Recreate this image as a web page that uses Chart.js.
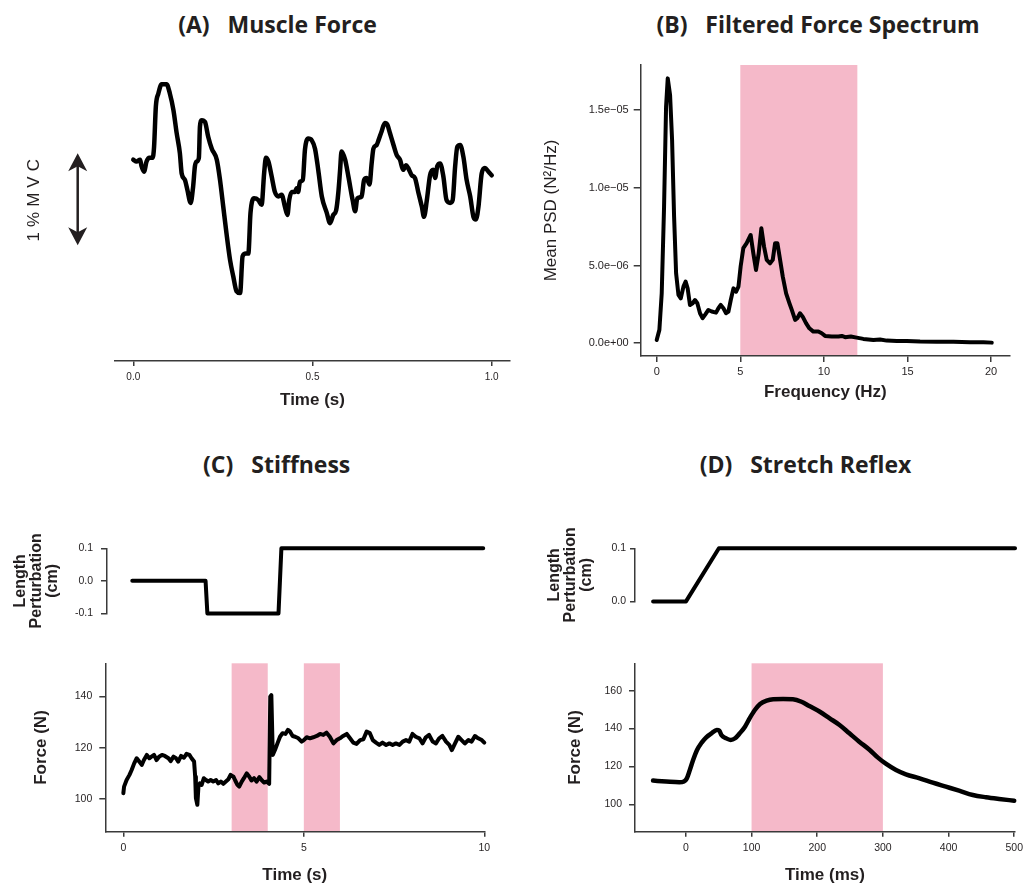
<!DOCTYPE html>
<html><head><meta charset="utf-8">
<script src="https://cdn.jsdelivr.net/npm/chart.js@4.4.1/dist/chart.umd.min.js"></script>
<style>
html,body{margin:0;padding:0;background:#fff}
body{width:1028px;height:886px;position:relative;overflow:hidden}
canvas{position:absolute}
.pt{position:absolute;font-family:"Open Sans",sans-serif;font-weight:700;font-size:23px;line-height:23px;color:#231f20;white-space:pre;transform:translateX(-50%)}
</style></head><body>
<div class="pt" style="left:277.5px;top:12.5px">(A)   Muscle Force</div>
<div class="pt" style="left:818px;top:12.5px">(B)   Filtered Force Spectrum</div>
<div class="pt" style="left:276.7px;top:453px">(C)   Stiffness</div>
<div class="pt" style="left:805.5px;top:453px">(D)   Stretch Reflex</div>
<canvas id="cA"></canvas><canvas id="cB"></canvas>
<canvas id="cCt"></canvas><canvas id="cCb"></canvas>
<canvas id="cDt"></canvas><canvas id="cDb"></canvas>
<script>
// ---------- DATA ----------
// (A) Muscle force, relative units of %MVC
const A_TIME = [0,0.009,0.019,0.023,0.030,0.037,0.045,0.054,0.058,0.063,
0.070,0.079,0.093,0.102,0.112,0.121,0.130,0.135,0.144,0.151,
0.160,0.167,0.172,0.177,0.183,0.186,0.191,0.200,0.209,0.219,
0.233,0.242,0.251,0.260,0.270,0.279,0.288,0.298,0.305,0.314,
0.321,0.327,0.337,0.349,0.358,0.365,0.370,0.377,0.386,0.395,
0.405,0.414,0.423,0.430,0.435,0.442,0.451,0.456,0.460,0.465,
0.473,0.479,0.488,0.498,0.507,0.516,0.526,0.540,0.549,0.558,
0.566,0.572,0.577,0.581,0.591,0.600,0.612,0.619,0.625,0.637,
0.644,0.651,0.659,0.665,0.670,0.679,0.684,0.693,0.702,0.709,
0.716,0.726,0.735,0.744,0.753,0.761,0.767,0.777,0.786,0.795,
0.805,0.811,0.819,0.828,0.837,0.842,0.848,0.856,0.865,0.874,
0.884,0.891,0.898,0.904,0.912,0.921,0.930,0.940,0.949,0.956,
0.963,0.972,0.981,0.991,1.000];
const A_FORCE = [0.43,0.41,0.43,0.36,0.30,0.41,0.45,0.45,0.57,1.01,
1.15,1.25,1.25,1.15,0.97,0.72,0.50,0.28,0.21,0.10,
-0.04,0.14,0.36,0.41,0.45,0.79,0.86,0.84,0.68,0.55,
0.43,0.21,-0.08,-0.37,-0.66,-0.84,-1.00,-1.02,-0.62,-0.59,
-0.59,-0.15,0.01,-0.01,-0.06,0.28,0.45,0.41,0.25,0.08,
0.03,0.05,-0.08,-0.17,-0.01,0.08,0.08,0.12,0.08,0.19,
0.21,0.54,0.66,0.64,0.55,0.32,0.03,-0.15,-0.26,-0.17,
-0.12,0.07,0.32,0.52,0.43,0.25,-0.01,-0.13,0.01,0.03,
0.21,0.23,0.16,0.39,0.55,0.59,0.64,0.74,0.83,0.81,
0.72,0.59,0.48,0.43,0.32,0.37,0.34,0.26,0.23,0.08,
-0.08,-0.19,-0.01,0.26,0.32,0.23,0.36,0.39,0.25,-0.01,
-0.04,-0.01,0.36,0.57,0.59,0.46,0.21,0.03,-0.19,-0.22,
-0.08,0.28,0.34,0.30,0.26];
const A_X_TICKS = [0, 0.5, 1];
const A_X_LABELS = ["0.0", "0.5", "1.0"];
const A_SCALEBAR = [-0.5, 0.5];   // 1 %MVC scale arrow
const A_SCALEBAR_LABEL = "1%MVC";

// (B) Filtered force spectrum (PSD in units of 1e-6 N²/Hz)
const B_FREQ = [0,0.16,0.30,0.44,0.56,0.66,0.80,0.92,1.04,1.16,
1.30,1.44,1.60,1.73,1.85,1.99,2.15,2.29,2.43,2.59,
2.75,2.89,3.09,3.29,3.55,3.69,3.83,3.99,4.15,4.29,
4.43,4.59,4.75,4.89,5.02,5.18,5.38,5.62,5.78,5.94,
6.10,6.26,6.42,6.58,6.78,6.94,7.08,7.22,7.38,7.54,
7.74,7.94,8.08,8.28,8.41,8.57,8.73,8.93,9.13,9.37,
9.67,9.87,10.07,10.47,10.87,11.07,11.27,11.61,11.96,12.36,
12.96,13.36,13.76,14.36,14.96,15.75,16.75,17.75,18.74,19.54,20.04];
const B_PSD_E6 = [0.21,0.86,3.21,8.78,15.21,17.03,15.96,13.07,8.14,4.50,
3.11,2.89,3.64,3.96,3.53,2.46,2.57,2.78,2.57,1.93,
1.61,1.82,2.14,2.04,1.97,2.25,2.46,2.25,1.93,2.04,
2.78,3.53,3.32,3.64,4.93,6.11,6.43,6.96,5.78,4.71,
5.78,7.39,6.21,5.36,5.14,5.36,6.43,6.43,5.36,4.28,
3.21,2.57,2.14,1.50,1.61,1.93,1.71,1.29,0.96,0.75,
0.75,0.64,0.47,0.43,0.43,0.47,0.39,0.43,0.36,0.28,
0.21,0.24,0.17,0.15,0.15,0.11,0.09,0.09,0.06,0.06,0.04];
const B_BAND = [[5, 12]];
const B_X_TICKS = [0, 5, 10, 15, 20];
const B_X_LABELS = ["0", "5", "10", "15", "20"];
const B_Y_TICKS = [0, 5, 10, 15];
const B_Y_LABELS = ["0.0e+00", "5.0e\u221206", "1.0e\u221205", "1.5e\u221205"];

// (C) Stiffness
const C_LEN_TIME = [0.25, 2.28, 2.33, 4.30, 4.38, 9.97];
const C_LEN = [0, 0, -0.1, -0.1, 0.1, 0.1];
const C_LEN_TICKS = [-0.1, 0, 0.1];
const C_LEN_LABELS = ["-0.1", "0.0", "0.1"];
const C_TIME = [0,0.02,0.09,0.17,0.23,0.30,0.37,0.44,0.51,0.57,
0.65,0.72,0.78,0.85,0.92,0.99,1.07,1.15,1.25,1.31,
1.39,1.46,1.52,1.60,1.68,1.75,1.83,1.89,1.96,1.99,
2.01,2.05,2.08,2.12,2.17,2.23,2.29,2.35,2.42,2.49,
2.57,2.63,2.70,2.77,2.84,2.91,2.97,3.05,3.10,3.16,
3.21,3.28,3.34,3.42,3.49,3.55,3.62,3.69,3.77,3.83,
3.90,3.97,4.04,4.07,4.10,4.14,4.20,4.27,4.34,4.41,
4.49,4.56,4.62,4.69,4.76,4.85,4.94,5.00,5.08,5.17,
5.26,5.36,5.45,5.54,5.63,5.72,5.82,5.91,6.00,6.09,
6.19,6.28,6.37,6.46,6.56,6.65,6.74,6.83,6.91,7.00,
7.09,7.18,7.28,7.37,7.46,7.55,7.65,7.74,7.83,7.92,
8.01,8.10,8.20,8.29,8.38,8.47,8.57,8.66,8.75,8.84,
8.94,9.03,9.10,9.19,9.28,9.37,9.46,9.56,9.65,9.74,
9.83,9.93,10.0];
const C_FORCE = [102.2,104.8,107.4,109.4,111.3,113.9,115.9,114.6,113.3,115.2,
117.2,115.9,116.5,117.2,115.2,116.5,117.2,116.8,115.9,114.8,
116.5,115.9,114.6,116.8,116.1,117.6,117.2,115.9,114.6,108.7,
100.3,97.7,104.8,106.1,105.5,108.1,107.4,106.8,107.4,106.8,
107.4,106.1,106.8,105.9,106.8,107.7,109.4,108.7,107.2,105.5,
104.8,106.8,108.1,110.0,108.7,107.2,108.1,106.8,108.5,107.4,
106.4,106.8,105.9,140.0,140.6,117.2,119.1,121.7,124.3,125.7,
125.4,127.0,126.3,124.6,124.3,123.7,122.4,123.0,124.1,123.7,
124.1,124.6,125.4,125.0,125.9,124.3,121.7,123.0,123.7,124.6,
125.4,123.7,122.0,121.5,123.0,123.3,126.3,125.7,123.0,122.0,
121.1,122.0,121.1,121.7,121.1,121.7,121.1,122.4,123.0,122.4,
125.4,124.3,123.7,121.7,124.1,125.0,122.4,121.7,123.7,124.6,
122.4,121.1,119.1,121.7,124.3,123.0,121.7,123.0,122.4,124.6,
123.7,123.0,122.0];
const C_BANDS = [[3, 4], [5, 6]];
const C_X_TICKS = [0, 5, 10];
const C_X_LABELS = ["0", "5", "10"];
const C_F_TICKS = [100, 120, 140];
const C_F_LABELS = ["100", "120", "140"];

// (D) Stretch reflex
const D_LEN_TIME = [-50, 0, 50, 500];
const D_LEN = [0, 0, 0.1, 0.1];
const D_LEN_TICKS = [0, 0.1];
const D_LEN_LABELS = ["0.0", "0.1"];
const D_TIME = [-50,-30,-10,-3,1,6,11,17,24,31,
39,47,51,54,61,68,75,82,90,97,
105,113,123,133,148,163,176,188,204,219,
234,249,264,280,292,305,320,335,356,376,
396,416,437,457,477,500];
const D_FORCE = [112.5,112.0,111.6,112.0,113.4,118.1,123.4,128.7,132.6,135.4,
137.5,139.3,138.9,136.6,134.9,134.0,134.9,137.5,141.0,145.4,
149.8,153.0,154.8,155.5,155.6,155.5,154.2,151.9,148.9,145.4,
141.9,137.5,133.1,128.7,124.8,121.3,118.1,115.8,113.7,111.4,
109.3,107.2,104.9,103.7,102.8,101.9];
const D_BAND = [[100, 300]];
const D_X_TICKS = [0, 100, 200, 300, 400, 500];
const D_X_LABELS = ["0", "100", "200", "300", "400", "500"];
const D_F_TICKS = [100, 120, 140, 160];
const D_F_LABELS = ["100", "120", "140", "160"];

// ---------- STYLE ----------
const AX = '#3a3a3a', TXT = '#231f20', PINK = '#f5b9c9';
const SANS = '"Liberation Sans", Arial, Helvetica, sans-serif';

const zip = (xs, ys) => xs.map((x, i) => ({x, y: ys[i]}));

const bandPlugin = {
  id: 'bands',
  beforeDraw(chart, args, o) {
    if (!o || !o.ranges) return;
    const {ctx, chartArea: a, scales: {x}} = chart;
    ctx.save(); ctx.fillStyle = o.color;
    o.ranges.forEach(([lo, hi]) => {
      const x0 = x.getPixelForValue(lo), x1 = x.getPixelForValue(hi);
      ctx.fillRect(x0, a.top, x1 - x0, a.bottom - a.top);
    });
    ctx.restore();
  }
};
const scaleBarPlugin = {
  id: 'scalebar',
  afterDraw(chart, args, o) {
    if (!o || !o.range) return;
    const {ctx, chartArea: a, scales: {y}} = chart;
    const x = a.left + o.dx;
    const yTop = y.getPixelForValue(o.range[1]), yBot = y.getPixelForValue(o.range[0]);
    const hl = 18, hw = 9.5, notch = 13;
    ctx.save();
    ctx.strokeStyle = TXT; ctx.fillStyle = TXT; ctx.lineWidth = 2.5;
    ctx.beginPath(); ctx.moveTo(x, yTop + notch - 1); ctx.lineTo(x, yBot - notch + 1); ctx.stroke();
    ctx.beginPath(); ctx.moveTo(x, yTop); ctx.lineTo(x + hw, yTop + hl); ctx.lineTo(x, yTop + notch); ctx.lineTo(x - hw, yTop + hl); ctx.closePath(); ctx.fill();
    ctx.beginPath(); ctx.moveTo(x, yBot); ctx.lineTo(x + hw, yBot - hl); ctx.lineTo(x, yBot - notch); ctx.lineTo(x - hw, yBot - hl); ctx.closePath(); ctx.fill();
    // label
    ctx.translate(a.left + o.textDx, (yTop + yBot) / 2 + 1);
    ctx.rotate(-Math.PI / 2);
    ctx.font = '17px ' + SANS;
    ctx.letterSpacing = '5px';
    ctx.textAlign = 'center'; ctx.textBaseline = 'middle';
    ctx.fillText(o.text, 2.5, 0);
    ctx.restore();
  }
};
Chart.register(bandPlugin, scaleBarPlugin);

function xAxis(o) {
  return {
    type: 'linear', display: !o.hidden, min: o.min, max: o.max,
    afterBuildTicks: s => { s.ticks = o.ticks.map(v => ({value: v})); },
    afterFit: s => { if (o.height !== undefined) s.height = o.height; },
    border: {display: true, color: AX, width: 1.5},
    grid: {display: true, drawOnChartArea: false, drawTicks: true, tickLength: o.tickLen || 5, color: AX, lineWidth: 1.5},
    ticks: {color: TXT, font: {family: SANS, size: o.fs || 10.5}, padding: o.pad, maxRotation: 0, autoSkip: false,
      callback: (v, i) => o.labels[i]},
    title: {display: !!o.title, text: o.title, color: TXT,
      font: {family: SANS, size: 17, weight: 'bold', lineHeight: 1.2}, padding: {top: 0, bottom: o.titlePad || 0}}
  };
}
function yAxis(o) {
  if (o.blank) {
    return {type: 'linear', min: o.min, max: o.max, afterFit: s => { s.width = o.width; },
      border: {display: false}, grid: {display: false}, ticks: {display: false}, title: {display: false}};
  }
  return {
    type: 'linear', min: o.min, max: o.max,
    afterBuildTicks: s => { s.ticks = o.ticks.map(v => ({value: v})); },
    afterFit: s => { s.width = o.width; },
    border: {display: true, color: AX, width: 1.5},
    grid: {display: true, drawOnChartArea: false, drawTicks: true, tickLength: o.tickLen || 6, color: AX, lineWidth: 1.5},
    ticks: {color: TXT, font: {family: SANS, size: o.fs || 10.5}, padding: o.pad, autoSkip: false,
      callback: (v, i) => o.labels[i]},
    title: {display: true, text: o.title, color: TXT,
      font: {family: SANS, size: o.titleSize || 17, weight: o.titleWeight || 'bold', lineHeight: o.titleLH || 1.2},
      padding: {top: o.titlePad, bottom: 0}}
  };
}

function make(id, box, area, cfg) {
  const cv = document.getElementById(id);
  cv.width = box.w; cv.height = box.h;
  cv.style.left = box.l + 'px'; cv.style.top = box.t + 'px';
  const xo = Object.assign({}, cfg.x, {height: box.t + box.h - area.b});
  const yo = Object.assign({}, cfg.y, {width: area.l - box.l});
  return new Chart(cv, {
    type: 'line',
    data: {datasets: [{
      data: cfg.data, borderColor: '#000', borderWidth: cfg.lw || 4,
      pointRadius: 0, fill: false, clip: false,
      tension: cfg.tension || 0, cubicInterpolationMode: cfg.mono ? 'monotone' : 'default',
      borderJoinStyle: 'round', borderCapStyle: 'round'
    }]},
    options: {
      responsive: false, animation: false, events: [],
      layout: {padding: {top: area.t - box.t, right: box.l + box.w - area.r, left: 0,
        bottom: cfg.x.hidden ? box.t + box.h - area.b : 0}},
      scales: {x: xAxis(xo), y: yAxis(yo)},
      plugins: Object.assign({legend: {display: false}, tooltip: {enabled: false}}, cfg.plugins || {})
    }
  });
}

// (A)
make('cA', {l: 0, t: 40, w: 520, h: 380}, {l: 115, t: 70, r: 510, b: 361}, {
  data: zip(A_TIME, A_FORCE), mono: true, lw: 4.5,
  x: {min: -0.051, max: 1.051, ticks: A_X_TICKS, labels: A_X_LABELS, fs: 10, tickLen: 5, pad: 5,
      title: 'Time (s)', titlePad: 9.8},
  y: {blank: true, min: -1.758, max: 1.405},
  plugins: {scalebar: {range: A_SCALEBAR, dx: -37.3, textDx: -81, text: A_SCALEBAR_LABEL}}
});
// (B)
make('cB', {l: 520, t: 40, w: 508, h: 380}, {l: 640.7, t: 65, r: 1010, b: 356}, {
  data: zip(B_FREQ, B_PSD_E6), lw: 4,
  x: {min: -0.957, max: 21.13, ticks: B_X_TICKS, labels: B_X_LABELS, fs: 11, tickLen: 6, pad: 3.5,
      title: 'Frequency (Hz)', titlePad: 17.8},
  y: {min: -0.82, max: 17.89, ticks: B_Y_TICKS, labels: B_Y_LABELS, fs: 11, tickLen: 7, pad: 5,
      title: 'Mean PSD (N\u00b2/Hz)', titleWeight: 'normal', titlePad: 21.5},
  plugins: {bands: {ranges: B_BAND, color: PINK}}
});
// (C) top
make('cCt', {l: 0, t: 500, w: 520, h: 140}, {l: 107, t: 548.3, r: 484.3, b: 626.7}, {
  data: zip(C_LEN_TIME, C_LEN), lw: 4,
  x: {hidden: true, min: -0.45, max: 10, ticks: C_X_TICKS, labels: C_X_LABELS},
  y: {min: -0.1, max: 0.1, ticks: C_LEN_TICKS, labels: C_LEN_LABELS, fs: 10.5, tickLen: 6, pad: 8,
      title: ['Length', 'Perturbation', '(cm)'], titleSize: 16, titleLH: 1.0, titlePad: 13}
});
// (C) bottom
make('cCb', {l: 0, t: 640, w: 520, h: 246}, {l: 105.3, t: 663.3, r: 484.3, b: 831.7}, {
  data: zip(C_TIME, C_FORCE), lw: 4,
  x: {min: -0.5, max: 10, ticks: C_X_TICKS, labels: C_X_LABELS, fs: 10.5, tickLen: 5, pad: 5,
      title: 'Time (s)', titlePad: 0.8},
  y: {min: 87.2, max: 153.0, ticks: C_F_TICKS, labels: C_F_LABELS, fs: 10.5, tickLen: 6, pad: 7,
      title: 'Force (N)', titlePad: 31},
  plugins: {bands: {ranges: C_BANDS, color: PINK}}
});
// (D) top
make('cDt', {l: 520, t: 500, w: 508, h: 140}, {l: 635, t: 548.3, r: 1015.7, b: 620.7}, {
  data: zip(D_LEN_TIME, D_LEN), lw: 4,
  x: {hidden: true, min: -77.5, max: 501, ticks: D_X_TICKS, labels: D_X_LABELS},
  y: {min: 0, max: 0.1, ticks: D_LEN_TICKS, labels: D_LEN_LABELS, fs: 10.5, tickLen: 5, pad: 4,
      title: ['Length', 'Perturbation', '(cm)'], titleSize: 16, titleLH: 1.0, titlePad: 27}
});
// (D) bottom
make('cDb', {l: 520, t: 640, w: 508, h: 246}, {l: 635, t: 663.3, r: 1015.7, b: 831.7}, {
  data: zip(D_TIME, D_FORCE), mono: true, lw: 4.5,
  x: {min: -77.5, max: 501, ticks: D_X_TICKS, labels: D_X_LABELS, fs: 10.5, tickLen: 5, pad: 5,
      title: 'Time (ms)', titlePad: 0.8},
  y: {min: 85.5, max: 174.5, ticks: D_F_TICKS, labels: D_F_LABELS, fs: 10.5, tickLen: 6, pad: 7,
      title: 'Force (N)', titlePad: 44.8},
  plugins: {bands: {ranges: D_BAND, color: PINK}}
});
</script>
</body></html>
